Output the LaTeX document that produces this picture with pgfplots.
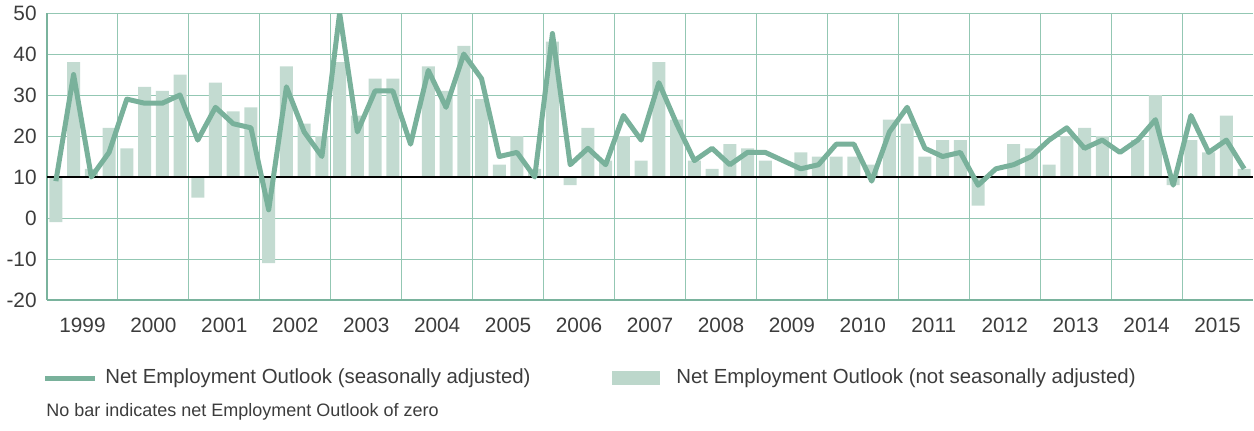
\documentclass[border=0pt]{standalone}
\usepackage{pgfplots}
\pgfplotsset{compat=1.18}
\usepackage{pgfplotstable}
\usepackage{fontspec}
\setmainfont{Liberation Sans}
\definecolor{lineg}{HTML}{79B19B}
\definecolor{barg}{HTML}{C3DBD1}
\definecolor{gridg}{HTML}{93C7B3}
\definecolor{axisg}{HTML}{7AB39D}
\definecolor{txt}{HTML}{3C3C3C}
\pgfplotstableread{
i sa nsa
0 9 -1
1 35 38
2 10 12
3 16 22
4 29 17
5 28 32
6 28 31
7 30 35
8 19 5
9 27 33
10 23 26
11 22 27
12 2 -11
13 32 37
14 21 23
15 15 20
16 50 38
17 21 25
18 31 34
19 31 34
20 18 10
21 36 37
22 27 31
23 40 42
24 34 29
25 15 13
26 16 20
27 10 12
28 45 43
29 13 8
30 17 22
31 13 14
32 25 20
33 19 14
34 33 38
35 23 24
36 14 14
37 17 12
38 13 18
39 16 17
40 16 14
41 14 10
42 12 16
43 13 15
44 18 15
45 18 15
46 9 13
47 21 24
48 27 23
49 17 15
50 15 19
51 16 19
52 8 3
53 12 10
54 13 18
55 15 17
56 19 13
57 22 20
58 17 22
59 19 20
60 16 10
61 19 19
62 24 30
63 8 8
64 25 19
65 16 16
66 19 25
67 12 12
}\data
\begin{document}
\begin{tikzpicture}
\path[use as bounding box] (0,0) rectangle (627pt,215pt);
\begin{axis}[
  at={(23.5pt,65pt)}, anchor=south west,
  width=603pt, height=143.5pt, scale only axis,
  xmin=-0.5, xmax=67.5, ymin=-30, ymax=40,
  axis x line*=bottom, axis y line*=left,
  axis line style={draw=axisg, line width=0.75pt, -},
  xtick={1.5,5.5,...,65.5},
  xticklabels={1999,2000,2001,2002,2003,2004,2005,2006,2007,2008,2009,2010,2011,2012,2013,2014,2015},
  minor xtick={3.5,7.5,...,63.5},
  xminorgrids,
  minor grid style={gridg, line width=0.5pt},
  ytick={-30,-20,...,40},
  yticklabels={-20,-10,0,10,20,30,40,50},
  ymajorgrids,
  major grid style={gridg, line width=0.5pt},
  major tick length=0pt, minor tick length=0pt,
  tick label style={font=\fontsize{10.4}{12}\selectfont, text=txt},
  yticklabel style={inner sep=0pt, xshift=-5pt},
  xticklabel style={inner sep=0pt, anchor=north, yshift=-9pt},
]
\addplot[ybar, bar width=6.5pt, fill=barg, draw=none] table[x=i, y expr=\thisrow{nsa}-10]{\data};
\addplot[black, line width=1.25pt] coordinates {(-0.5,0) (67.5,0)};
\addplot[lineg, line width=2.5pt, line join=round] table[x=i, y expr=\thisrow{sa}-10]{\data};
\end{axis}
\draw[lineg, line width=2.5pt] (22.5pt,26pt) -- (47.5pt,26pt);
\node[anchor=west, inner sep=0pt, font=\fontsize{10.2}{12}\selectfont, text=txt] at (52.5pt,26pt) {Net Employment Outlook (seasonally adjusted)};
\fill[barg!90!lineg] (306pt,22.5pt) rectangle (330pt,29.5pt);
\node[anchor=west, inner sep=0pt, font=\fontsize{10.2}{12}\selectfont, text=txt] at (338pt,26pt) {Net Employment Outlook (not seasonally adjusted)};
\node[anchor=west, inner sep=0pt, font=\fontsize{9}{11}\selectfont, text=txt] at (23pt,9pt) {No bar indicates net Employment Outlook of zero};
\end{tikzpicture}
\end{document}
